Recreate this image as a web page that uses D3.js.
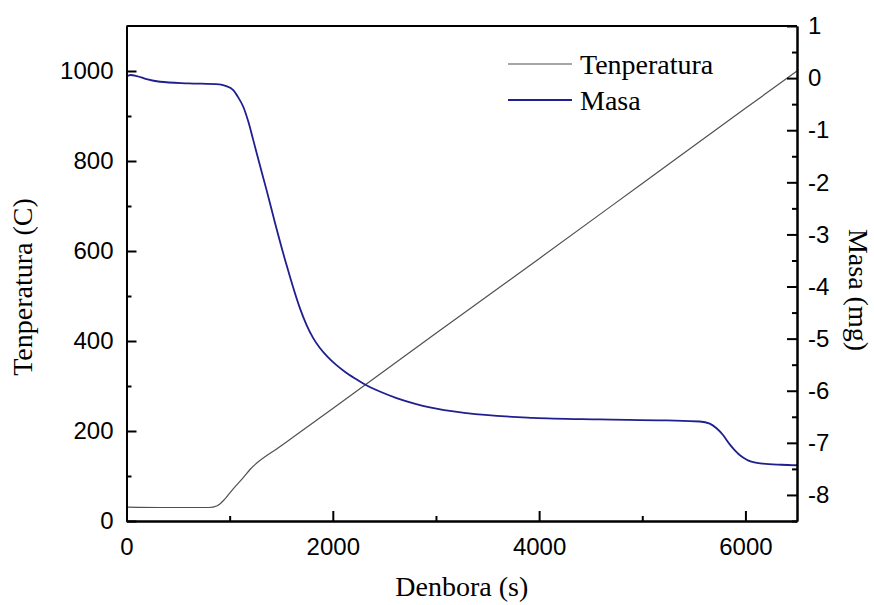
<!DOCTYPE html>
<html>
<head>
<meta charset="utf-8">
<script src="https://cdn.jsdelivr.net/npm/d3@7"></script>
<style>
  body { margin: 0; background: #fff; }
  svg { display: block; }
  .tick text { font-family: "Liberation Sans", Arial, sans-serif; font-size: 24px; fill: #000; }
  .title { font-family: "Liberation Serif", "Times New Roman", serif; font-size: 28px; fill: #000; }
</style>
</head>
<body>
<svg id="chart" width="874" height="605"></svg>
<script>
// Temperature program (time in s, temperature in C)
const tempTime = [0, 400, 800, 880, 950, 1000, 1060, 1130, 1200, 1500, 2000, 3000, 4000, 5000, 6000, 6500];
const tempValue = [31, 30, 30, 34, 48, 62, 78, 96, 115, 167, 250, 417, 583, 750, 917, 1000];

// Sample mass change (time in s, mass in mg)
const massTime = [0, 40, 100, 195, 325, 600, 900, 960, 1035, 1080, 1132, 1180, 1229, 1290, 1358, 1440, 1536, 1580, 1616, 1680, 1746, 1810, 1875, 1950, 2030, 2120, 2220, 2295, 2450, 2618, 2800, 2941, 3297, 3942, 4588, 5234, 5557, 5654, 5720, 5783, 5848, 5900, 5930, 5977, 6030, 6100, 6171, 6350, 6500];
const massValue = [0.03, 0.06, 0.04, -0.02, -0.07, -0.10, -0.12, -0.15, -0.23, -0.36, -0.55, -0.83, -1.19, -1.65, -2.15, -2.78, -3.48, -3.78, -4.02, -4.41, -4.74, -4.99, -5.18, -5.35, -5.50, -5.64, -5.77, -5.86, -6.01, -6.14, -6.25, -6.32, -6.43, -6.52, -6.55, -6.57, -6.59, -6.63, -6.72, -6.85, -7.03, -7.15, -7.21, -7.28, -7.34, -7.38, -7.40, -7.42, -7.43];

// Axis ticks
const xMajor = [0, 2000, 4000, 6000];
const xMinor = [1000, 3000, 5000];
const tMajor = [0, 200, 400, 600, 800, 1000];
const tMinor = [100, 300, 500, 700, 900];
const mMajor = [-8, -7, -6, -5, -4, -3, -2, -1, 0, 1];
const mMinor = [-8.5, -7.5, -6.5, -5.5, -4.5, -3.5, -2.5, -1.5, -0.5, 0.5];

const seriesNames = ["Tenperatura", "Masa"];
const seriesColors = ["#505050", "#1f1f8f"];

const W = 874, H = 605;
const margin = { top: 26, right: 77, bottom: 84, left: 126.5 };
const iw = W - margin.left - margin.right;
const ih = H - margin.top - margin.bottom;

const svg = d3.select("#chart");
const g = svg.append("g").attr("transform", `translate(${margin.left},${margin.top})`);

const x = d3.scaleLinear().domain([0, 6500]).range([0, iw]);
const yT = d3.scaleLinear().domain([0, 1100]).range([ih, 0]);
const yM = d3.scaleLinear().domain([-8.5, 1]).range([ih, 0]);

const fmt = d => String(d);

// Data lines
const tempLine = d3.line().x(d => x(d[0])).y(d => yT(d[1])).curve(d3.curveMonotoneX);
const massLine = d3.line().x(d => x(d[0])).y(d => yM(d[1])).curve(d3.curveMonotoneX);

g.append("path")
  .datum(tempTime.map((t, i) => [t, tempValue[i]]))
  .attr("fill", "none").attr("stroke", seriesColors[0]).attr("stroke-width", 1.2)
  .attr("d", tempLine);

g.append("path")
  .datum(massTime.map((t, i) => [t, massValue[i]]))
  .attr("fill", "none").attr("stroke", seriesColors[1]).attr("stroke-width", 1.8)
  .attr("d", massLine);

// Axes: ticks point into the plot
function styleAxis(sel) {
  sel.select(".domain").attr("stroke", "#000").attr("stroke-width", 2);
  sel.selectAll(".tick line").attr("stroke", "#000").attr("stroke-width", 2);
}

g.append("g").attr("transform", `translate(0,${ih})`)
  .call(d3.axisBottom(x).tickValues(xMajor).tickFormat(fmt).tickSize(-10).tickSizeOuter(0).tickPadding(17))
  .call(styleAxis);
g.append("g").attr("transform", `translate(0,${ih})`)
  .call(d3.axisBottom(x).tickValues(xMinor).tickFormat("").tickSize(-5).tickSizeOuter(0))
  .call(styleAxis);

g.append("g")
  .call(d3.axisLeft(yT).tickValues(tMajor).tickFormat(fmt).tickSize(-10).tickSizeOuter(0).tickPadding(13))
  .call(styleAxis);
g.append("g")
  .call(d3.axisLeft(yT).tickValues(tMinor).tickFormat("").tickSize(-5).tickSizeOuter(0))
  .call(styleAxis);

g.append("g").attr("transform", `translate(${iw},0)`)
  .call(d3.axisRight(yM).tickValues(mMajor).tickFormat(fmt).tickSize(-10).tickSizeOuter(0).tickPadding(11))
  .call(styleAxis);
g.append("g").attr("transform", `translate(${iw},0)`)
  .call(d3.axisRight(yM).tickValues(mMinor).tickFormat("").tickSize(-5).tickSizeOuter(0))
  .call(styleAxis);

// Top frame
g.append("line").attr("x1", 0).attr("x2", iw).attr("y1", 0).attr("y2", 0)
  .attr("stroke", "#000").attr("stroke-width", 2);

// Axis titles
svg.append("text").attr("class", "title")
  .attr("x", margin.left + iw / 2).attr("y", 596)
  .attr("text-anchor", "middle").text("Denbora (s)");

svg.append("text").attr("class", "title")
  .attr("transform", "translate(32,287) rotate(-90)")
  .attr("text-anchor", "middle").text("Tenperatura (C)");

svg.append("text").attr("class", "title")
  .attr("transform", "translate(849,290) rotate(90)")
  .attr("text-anchor", "middle").text("Masa (mg)");

// Legend
const legend = svg.append("g").attr("transform", "translate(508,64)");
seriesNames.forEach((name, i) => {
  const row = legend.append("g").attr("transform", `translate(0,${i * 36})`);
  row.append("line").attr("x1", 0).attr("x2", 64).attr("y1", 0).attr("y2", 0)
    .attr("stroke", seriesColors[i]).attr("stroke-width", i === 0 ? 1.2 : 1.8);
  row.append("text").attr("class", "title").attr("x", 72).attr("y", 10).text(name);
});
</script>
</body>
</html>
